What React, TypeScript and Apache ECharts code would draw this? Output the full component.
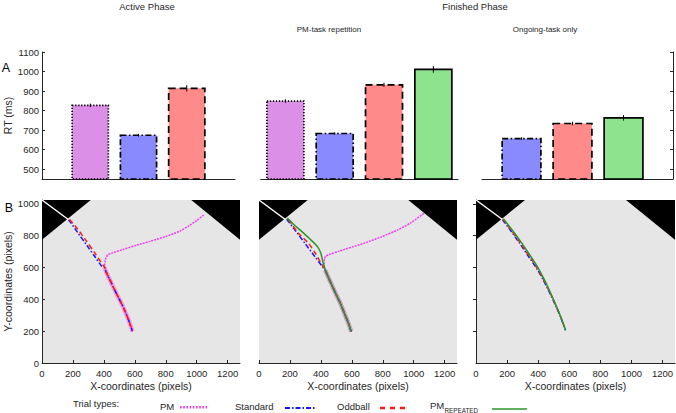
import React, { useEffect, useRef } from "react";
import * as echarts from "echarts";

// ---------- data ----------
const trialTypes = ["PM", "Standard", "Oddball", "PM_REPEATED"];

// Panel A – Active phase
const activeX = [1, 2, 3];
const activeTypes = [0, 1, 2];
const activeRT = [827, 674, 914];
const activeErr = [9, 7, 16];

// Panel A – Finished phase, PM-task repetition
const repX = [1, 2, 3, 4];
const repTypes = [0, 1, 2, 3];
const repRT = [849, 683, 932, 1011];
const repErr = [9, 6, 11, 17];

// Panel A – Finished phase, Ongoing-task only
const ongoingX = [1, 2, 3];
const ongoingTypes = [1, 2, 3];
const ongoingRT = [657, 734, 763];
const ongoingErr = [7, 9, 14];

const rtTicks = [500, 600, 700, 800, 900, 1000, 1100];
const xCoordTicks = [0, 200, 400, 600, 800, 1000, 1200];
const yCoordTicks = [0, 200, 400, 600, 800, 1000];
const rightTicks = [200, 400, 600, 800, 1000];

// Screen (1280 x 1024) and targets
const screenW = 1280;
const screenH = 1024;
const targets = [
  [[0, 1024], [315, 1024], [0, 774]],
  [[965, 1024], [1280, 1024], [1280, 774]],
];
const startLine = [[0, 1024], [172, 900]];

// Panel B – Active phase trajectories
const b1Common = [[405, 600], [413, 575], [435, 530], [460, 479], [488, 423], [514, 374], [537, 325], [560, 270], [585, 200]];
const b1StandardHead = [[172, 900], [230, 821], [290, 739], [345, 664], [385, 610]];
const b1OddballHead = [[178, 902], [230, 842], [288, 764], [340, 693], [380, 635], [398, 610]];
const b1PmHead = [[1045, 930], [1000, 895], [950, 862], [890, 828], [800, 795], [697, 764], [600, 737], [520, 712], [449, 690], [425, 678], [414, 662], [408, 640]];

// Panel B – PM-task repetition trajectories
const b2Common = [[428, 584], [445, 545], [466, 500], [495, 438], [526, 374], [555, 305], [578, 250], [596, 198]];
const b2StandardHead = [[179, 903], [240, 826], [300, 748], [360, 670], [405, 612]];
const b2OddballHead = [[190, 900], [255, 815], [320, 752], [365, 688], [396, 636], [415, 605]];
const b2RepeatedHead = [[183, 910], [225, 870], [265, 836], [331, 777], [378, 731], [400, 689], [413, 636], [422, 605]];
const b2PmHead = [[1065, 940], [980, 880], [896, 836], [790, 792], [678, 752], [600, 728], [520, 703], [450, 680], [432, 670], [423, 655], [421, 620]];

// Panel B – Ongoing-task only trajectories
const b3Standard = [[170, 900], [225, 829], [280, 753], [335, 674], [390, 594], [430, 527], [466, 458], [503, 380], [540, 298], [575, 205]];
const b3Oddball = [[173, 903], [229, 831], [284, 756], [339, 677], [394, 596], [433, 527], [468, 458], [505, 380], [541, 298], [576, 206]];
const b3Repeated = [[176, 906], [234, 834], [290, 759], [345, 680], [399, 598], [437, 528], [471, 458], [507, 380], [542, 298], [577, 206]];

// ---------- styles ----------
const font = "'Liberation Sans', Arial, sans-serif";
const textColor = "#262626";
const barFill = ["#dc8fe6", "#8a8aff", "#ff8a8a", "#8ee48e"];
const barDash: any[] = [[1.3, 1.7], [6, 2.5, 1.5, 2.5], [7, 4], null];
const lineColor = ["#f03cf0", "#1515ff", "#ff1a1a", "#2a962a"];
const lineDash: any[] = [[2, 1], [5, 2, 1.5, 2], [5, 3], "solid"];

function barSeries(grid: number, xs: number[], vals: number[], types: number[], half: number) {
  return {
    type: "custom",
    xAxisIndex: grid,
    yAxisIndex: grid,
    silent: true,
    z: 3,
    data: xs.map((x, i) => [x, vals[i], types[i]]),
    renderItem: (params: any, api: any) => {
      const x = api.value(0);
      const v = api.value(1);
      const t = api.value(2);
      const p0 = api.coord([x - half, 450]);
      const p1 = api.coord([x + half, v]);
      return {
        type: "rect",
        shape: { x: p0[0], y: p1[1], width: p1[0] - p0[0], height: p0[1] - p1[1] },
        style: {
          fill: barFill[t],
          stroke: "#000",
          lineWidth: 1.7,
          lineDash: barDash[t] || undefined,
        },
      };
    },
  };
}

function errSeries(grid: number, xs: number[], vals: number[], errs: number[]) {
  return {
    type: "custom",
    xAxisIndex: grid,
    yAxisIndex: grid,
    silent: true,
    z: 4,
    data: xs.map((x, i) => [x, vals[i], errs[i]]),
    renderItem: (params: any, api: any) => {
      const x = api.value(0);
      const v = api.value(1);
      const e = api.value(2);
      const a = api.coord([x, v - e]);
      const b = api.coord([x, v + e]);
      return {
        type: "line",
        shape: { x1: a[0], y1: a[1], x2: b[0], y2: b[1] },
        style: { stroke: "#000", lineWidth: 1 },
      };
    },
  };
}

function targetSeries(grid: number) {
  return {
    type: "custom",
    xAxisIndex: grid,
    yAxisIndex: grid,
    silent: true,
    z: 1,
    data: targets.map((t) => t.flat()),
    renderItem: (params: any, api: any) => {
      const pts = [0, 1, 2].map((k) => api.coord([api.value(2 * k), api.value(2 * k + 1)]));
      return { type: "polygon", shape: { points: pts }, style: { fill: "#000" } };
    },
  };
}

function lineSeries(grid: number, data: number[][], style: any, z: number) {
  return {
    type: "line",
    xAxisIndex: grid,
    yAxisIndex: grid,
    data,
    symbol: "none",
    showSymbol: false,
    smooth: 0.25,
    silent: true,
    z,
    lineStyle: style,
  };
}

function traj(grid: number, idx: number, data: number[][]) {
  return lineSeries(grid, data, { color: lineColor[idx], type: lineDash[idx], width: 1.5 }, 5 + idx);
}

const axisLineStyle = { color: textColor, width: 1 };
const tickLabel = { fontSize: 9.5, color: textColor, fontFamily: font, formatter: (v: number) => String(v) };

export default function App() {
  const ref = useRef<HTMLDivElement>(null);

  useEffect(() => {
    document.body.style.margin = "0";
    const chart = echarts.init(ref.current!, null, { renderer: "svg" });

    const aX = (grid: number, min: number, max: number) => ({
      gridIndex: grid,
      type: "value",
      min,
      max,
      axisLine: { show: true, onZero: false, lineStyle: axisLineStyle },
      axisTick: { show: false },
      axisLabel: { show: false },
      splitLine: { show: false },
    });
    const bX = (grid: number) => ({
      gridIndex: grid,
      type: "value",
      min: 0,
      max: screenW,
      axisLine: { show: true, onZero: false, lineStyle: axisLineStyle },
      axisTick: { show: true, inside: true, length: 3, customValues: xCoordTicks, lineStyle: axisLineStyle },
      axisLabel: { ...tickLabel, margin: 5, customValues: xCoordTicks },
      splitLine: { show: false },
      name: "X-coordinates (pixels)",
      nameLocation: "middle",
      nameGap: 17,
      nameTextStyle: { fontSize: 10.5, color: textColor, fontFamily: font },
    });

    const option: any = {
      animation: false,
      backgroundColor: "#fff",
      grid: [
        { left: 42, top: 52, width: 193, height: 127, containLabel: false, outerBoundsMode: "none" },
        { left: 260.7, top: 52, width: 197.3, height: 127, containLabel: false, outerBoundsMode: "none" },
        { left: 482, top: 52, width: 191, height: 127, containLabel: false, outerBoundsMode: "none" },
        { left: 42, top: 200, width: 198, height: 163, show: true, backgroundColor: "#e6e6e6", borderWidth: 0, containLabel: false, outerBoundsMode: "none" },
        { left: 259, top: 200, width: 198, height: 163, show: true, backgroundColor: "#e6e6e6", borderWidth: 0, containLabel: false, outerBoundsMode: "none" },
        { left: 476, top: 200, width: 199, height: 163, show: true, backgroundColor: "#e6e6e6", borderWidth: 0, containLabel: false, outerBoundsMode: "none" },
      ],
      xAxis: [aX(0, 0, 4), aX(1, 0.5, 4.5), aX(2, 0.225, 3.97), bX(3), bX(4), bX(5)],
      yAxis: [
        {
          gridIndex: 0,
          type: "value",
          min: 450,
          max: 1100,
          axisLine: { show: true, lineStyle: axisLineStyle },
          axisTick: { show: true, inside: true, length: 3, customValues: rtTicks, lineStyle: axisLineStyle },
          axisLabel: { ...tickLabel, margin: 3, customValues: rtTicks },
          splitLine: { show: false },
          name: "RT (ms)",
          nameLocation: "middle",
          nameGap: 21,
          nameTextStyle: { fontSize: 10.5, color: textColor, fontFamily: font },
        },
        { gridIndex: 1, type: "value", min: 450, max: 1100, show: false },
        {
          gridIndex: 2,
          type: "value",
          min: 450,
          max: 1100,
          position: "right",
          axisLine: { show: true, lineStyle: axisLineStyle },
          axisTick: { show: true, inside: true, length: 3, customValues: rtTicks, lineStyle: axisLineStyle },
          axisLabel: { show: false },
          splitLine: { show: false },
        },
        {
          gridIndex: 3,
          type: "value",
          min: 0,
          max: screenH,
          axisLine: { show: true, lineStyle: axisLineStyle },
          axisTick: { show: true, inside: true, length: 3, customValues: yCoordTicks, lineStyle: axisLineStyle },
          axisLabel: { ...tickLabel, margin: 3, customValues: yCoordTicks },
          splitLine: { show: false },
          name: "Y-coordinates (pixels)",
          nameLocation: "middle",
          nameGap: 21,
          nameTextStyle: { fontSize: 10.5, color: textColor, fontFamily: font },
        },
        { gridIndex: 4, type: "value", min: 0, max: screenH, show: false },
        {
          gridIndex: 5,
          type: "value",
          min: 0,
          max: screenH,
          position: "right",
          axisLine: { show: true, lineStyle: axisLineStyle },
          axisTick: { show: true, inside: true, length: 3, customValues: rightTicks, lineStyle: axisLineStyle },
          axisLabel: { show: false },
          splitLine: { show: false },
        },
      ],
      series: [
        barSeries(0, activeX, activeRT, activeTypes, 0.375),
        errSeries(0, activeX, activeRT, activeErr),
        barSeries(1, repX, repRT, repTypes, 0.375),
        errSeries(1, repX, repRT, repErr),
        barSeries(2, ongoingX, ongoingRT, ongoingTypes, 0.38),
        errSeries(2, ongoingX, ongoingRT, ongoingErr),

        // B1
        targetSeries(3),
        lineSeries(3, startLine, { color: "#fff", width: 1.5 }, 2),
        lineSeries(3, b1Common, { color: "rgba(240,140,205,0.75)", width: 4.5 }, 3),
        traj(3, 0, [...b1PmHead, ...b1Common]),
        traj(3, 1, [...b1StandardHead, ...b1Common]),
        traj(3, 2, [...b1OddballHead, ...b1Common]),

        // B2
        targetSeries(4),
        lineSeries(4, startLine, { color: "#fff", width: 1.5 }, 2),
        lineSeries(4, b2Common, { color: "rgba(200,140,190,0.75)", width: 4.5 }, 3),
        traj(4, 0, [...b2PmHead, ...b2Common]),
        traj(4, 1, [...b2StandardHead, ...b2Common]),
        traj(4, 2, [...b2OddballHead, ...b2Common]),
        traj(4, 3, [...b2RepeatedHead, ...b2Common]),

        // B3
        targetSeries(5),
        lineSeries(5, startLine, { color: "#fff", width: 1.5 }, 2),
        traj(5, 1, b3Standard),
        traj(5, 2, b3Oddball),
        traj(5, 3, b3Repeated),
      ],
      graphic: [
        { type: "text", x: 147, y: 6, style: { text: "Active Phase", fill: textColor, font: `9.5px ${font}`, align: "center", verticalAlign: "middle" } },
        { type: "text", x: 475, y: 6, style: { text: "Finished Phase", fill: textColor, font: `9.5px ${font}`, align: "center", verticalAlign: "middle" } },
        { type: "text", x: 329, y: 29, style: { text: "PM-task repetition", fill: textColor, font: `8px ${font}`, align: "center", verticalAlign: "middle" } },
        { type: "text", x: 545, y: 29, style: { text: "Ongoing-task only", fill: textColor, font: `8px ${font}`, align: "center", verticalAlign: "middle" } },
        { type: "text", x: 6, y: 68, style: { text: "A", fill: "#000", font: `12.5px ${font}`, align: "center", verticalAlign: "middle" } },
        { type: "text", x: 9, y: 207.5, style: { text: "B", fill: "#000", font: `12.5px ${font}`, align: "center", verticalAlign: "middle" } },
        // legend
        { type: "text", x: 73, y: 403, style: { text: "Trial types:", fill: textColor, font: `9.5px ${font}`, align: "left", verticalAlign: "middle" } },
        { type: "text", x: 160, y: 406, style: { text: trialTypes[0], fill: textColor, font: `9.5px ${font}`, align: "left", verticalAlign: "middle" } },
        { type: "line", shape: { x1: 180, y1: 407.3, x2: 207, y2: 407.3 }, style: { stroke: lineColor[0], lineWidth: 2.5, lineDash: [1.6, 1.6] } },
        { type: "text", x: 235, y: 406.5, style: { text: trialTypes[1], fill: textColor, font: `9.5px ${font}`, align: "left", verticalAlign: "middle" } },
        { type: "line", shape: { x1: 285, y1: 408, x2: 316, y2: 408 }, style: { stroke: lineColor[1], lineWidth: 2.2, lineDash: [5, 2, 1.5, 2] } },
        { type: "text", x: 337, y: 406.5, style: { text: trialTypes[2], fill: textColor, font: `9.5px ${font}`, align: "left", verticalAlign: "middle" } },
        { type: "line", shape: { x1: 380, y1: 408, x2: 409, y2: 408 }, style: { stroke: lineColor[2], lineWidth: 2.5, lineDash: [5, 5] } },
        { type: "text", x: 430, y: 405, style: { text: trialTypes[3].split("_")[0], fill: textColor, font: `9.5px ${font}`, align: "left", verticalAlign: "middle" } },
        { type: "text", x: 444.5, y: 410, style: { text: trialTypes[3].split("_")[1], fill: textColor, font: `6.3px ${font}`, align: "left", verticalAlign: "middle" } },
        { type: "line", shape: { x1: 492, y1: 409, x2: 527, y2: 409 }, style: { stroke: lineColor[3], lineWidth: 1.5 } },
      ],
    };

    chart.setOption(option);
    return () => chart.dispose();
  }, []);

  return <div ref={ref} style={{ width: 676, height: 413 }} />;
}
